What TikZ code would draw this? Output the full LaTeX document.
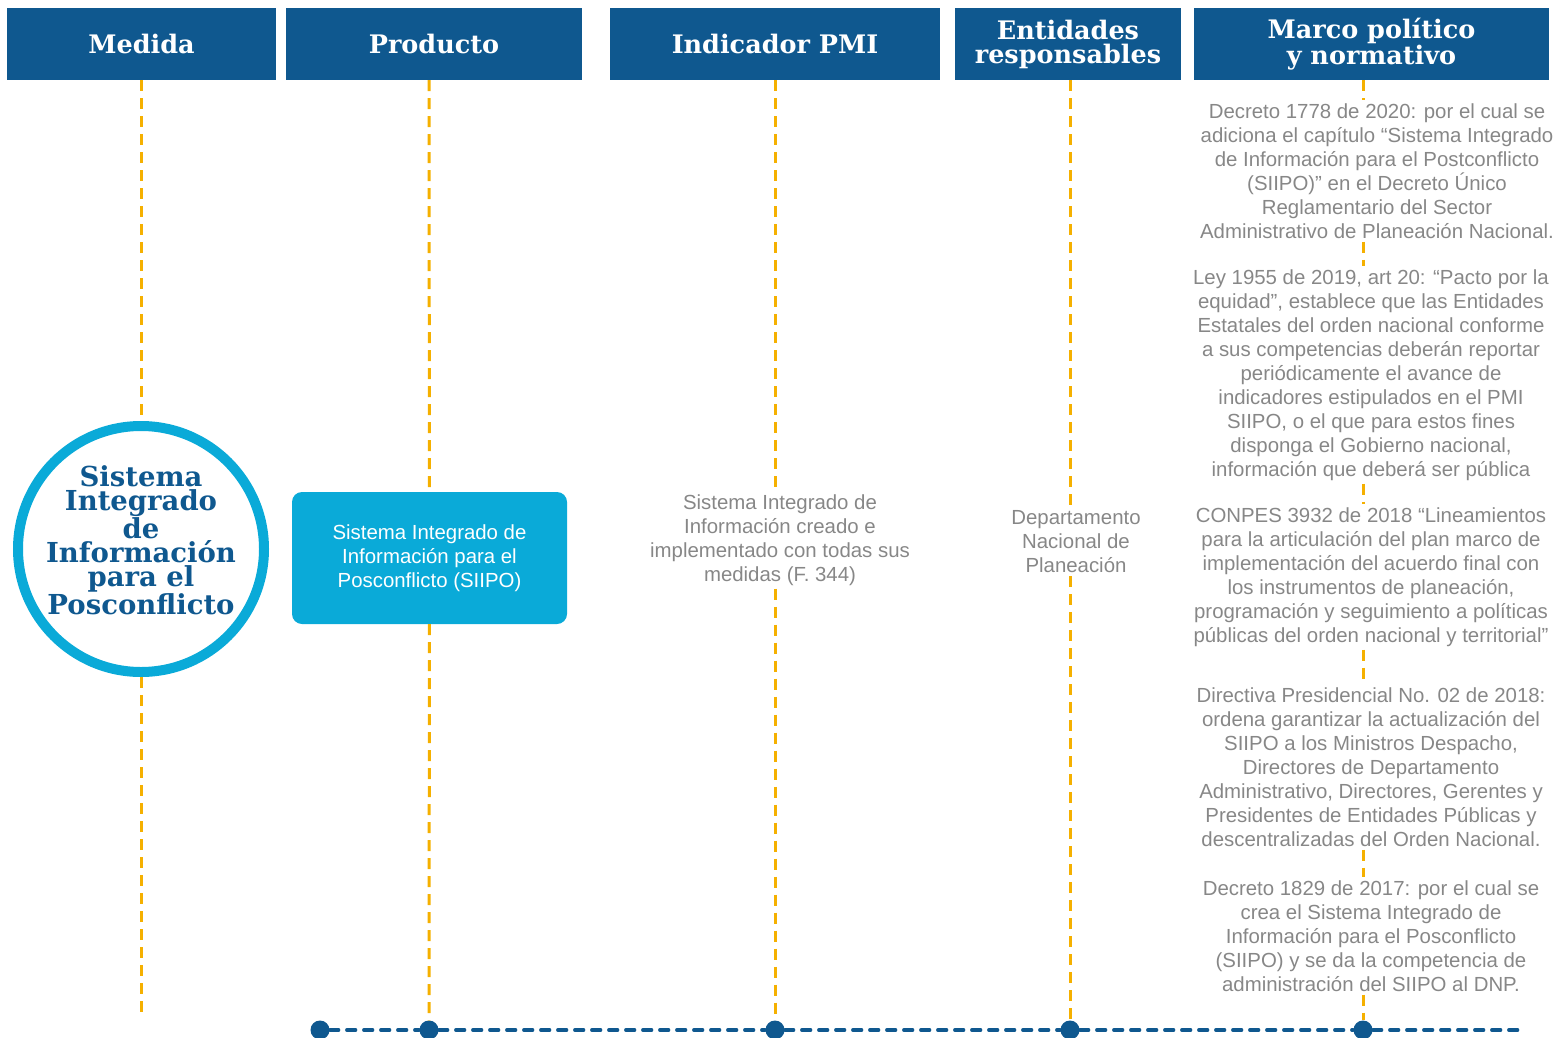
\documentclass[tikz,border=0pt]{standalone}
\usepackage{fontspec}
\setmainfont{Liberation Sans}
\newfontfamily\headfont{DejaVu Serif}
\definecolor{headblue}{RGB}{15,88,143}
\definecolor{siipocyan}{RGB}{10,170,216}
\definecolor{lineyellow}{RGB}{245,176,0}
\definecolor{textgray}{RGB}{135,135,135}

\begin{document}
\begin{tikzpicture}[x=1pt, y=-1pt]

\tikzstyle{head}=[rectangle, fill=headblue, text=white, minimum height=72pt, inner sep=0pt, align=center, font=\headfont\bfseries\fontsize{25.5}{24}\selectfont]
\tikzstyle{note}=[align=center, text=textgray, inner sep=3pt, font=\fontsize{20.4}{24}\selectfont]
\tikzstyle{vline}=[lineyellow, line width=3pt, dash pattern=on 11pt off 7pt]
\tikzstyle{timeline}=[headblue, line width=3.2pt, line cap=round, dash pattern=on 9pt off 8pt]
\tikzstyle{dot}=[circle, fill=headblue, minimum size=19pt, inner sep=0pt]

\useasboundingbox (0,0) rectangle (1557,1038);

% column heads
\node (H1) [head, minimum width=269pt] at (141.5,44) {Medida};
\node (H2) [head, minimum width=296pt] at (434,44)   {Producto};
\node (H3) [head, minimum width=330pt] at (775,44)   {Indicador PMI};
\node (H4) [head, minimum width=226pt] at (1068,44)  {Entidades\\responsables};
\node (H5) [head, minimum width=355pt] at (1371.5,44) {Marco político\\y normativo};

% medida
\node (C) [circle, draw=siipocyan, line width=10pt, minimum size=246pt] at (141,549) {};
\node (CT) [text=headblue, align=center, font=\headfont\bfseries\fontsize{27.5}{24}\selectfont] at (141,540)
           {Sistema\\Integrado\\de\\Información\\para el\\Posconflicto};
\coordinate (CE) at (141,1015);

% producto
\node (B) [rectangle, rounded corners=10pt, fill=siipocyan, text=white, minimum width=275pt, minimum height=132pt,
           align=center, font=\fontsize{20.4}{24}\selectfont] at (429.5,558)
           {Sistema Integrado de\\Información para el\\Posconflicto (SIIPO)};

% indicador y entidades
\node (I) [note] at (780,540) {Sistema Integrado de\\Información creado e\\implementado con todas sus\\medidas (F. 344)};
\node (E) [note] at (1076,542) {Departamento\\Nacional de\\Planeación};

% marco normativo
\node (M1) [note] at (1377,171) {Decreto 1778 de 2020: por el cual se\\adiciona el capítulo “Sistema Integrado\\de Información para el Postconflicto\\(SIIPO)” en el Decreto Único\\Reglamentario del Sector\\Administrativo de Planeación Nacional.};
\node (M2) [note] at (1371,375) {Ley 1955 de 2019, art 20: “Pacto por la\\equidad”, establece que las Entidades\\Estatales del orden nacional conforme\\a sus competencias deberán reportar\\periódicamente el avance de\\indicadores estipulados en el PMI\\SIIPO, o el que para estos fines\\disponga el Gobierno nacional,\\información que deberá ser pública};
\node (M3) [note] at (1371,577) {CONPES 3932 de 2018 “Lineamientos\\para la articulación del plan marco de\\implementación del acuerdo final con\\los instrumentos de planeación,\\programación y seguimiento a políticas\\públicas del orden nacional y territorial”};
\node (M4) [note] at (1371,767) {Directiva Presidencial No. 02 de 2018:\\ordena garantizar la actualización del\\SIIPO a los Ministros Despacho,\\Directores de Departamento\\Administrativo, Directores, Gerentes y\\Presidentes de Entidades Públicas y\\descentralizadas del Orden Nacional.};
\node (M5) [note] at (1371,936) {Decreto 1829 de 2017: por el cual se\\crea el Sistema Integrado de\\Información para el Posconflicto\\(SIIPO) y se da la competencia de\\administración del SIIPO al DNP.};

% linea base
\node (D0) [dot] at (320,1030) {};
\node (D1) [dot] at (429,1030) {};
\node (D2) [dot] at (775,1030) {};
\node (D3) [dot] at (1070,1030) {};
\node (D4) [dot] at (1363,1030) {};
\coordinate (DE) at (1518,1030);

\draw [timeline] (D0) -- (D1);
\draw [timeline] (D1) -- (D2);
\draw [timeline] (D2) -- (D3);
\draw [timeline] (D3) -- (D4);
\draw [timeline] (D4) -- (DE);

% lineas verticales
\draw [vline] (H1.south -| C) -- (C);
\draw [vline] (C) -- (CE);
\draw [vline] (H1.south -| D1) -- (B);
\draw [vline] (B) -- (D1);
\draw [vline] (H3.south -| D2) -- (I.north -| D2);
\draw [vline] (I.south -| D2) -- (D2);
\draw [vline] (H4.south -| D3) -- (E.north -| D3);
\draw [vline] (E.south -| D3) -- (D3);
\draw [vline] (H5.south -| D4) -- (M1.north -| D4);
\draw [vline] (M1.south -| D4) -- (M2.north -| D4);
\draw [vline] (M2.south -| D4) -- (M3.north -| D4);
\draw [vline] (M3.south -| D4) -- (M4.north -| D4);
\draw [vline] (M4.south -| D4) -- (M5.north -| D4);
\draw [vline] (M5.south -| D4) -- (D4);

\end{tikzpicture}
\end{document}
